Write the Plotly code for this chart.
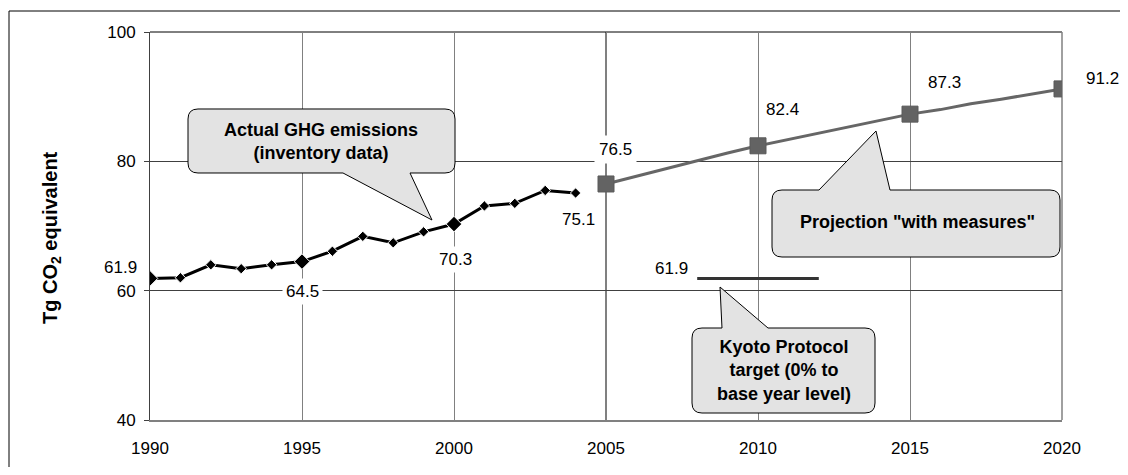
import plotly.graph_objects as go

# ---- data ----
actual_years = list(range(1990, 2005))
actual_values = [61.9, 62.0, 64.0, 63.4, 64.0, 64.5, 66.1, 68.4, 67.4, 69.1, 70.3, 73.1, 73.5, 75.5, 75.1]
proj_years = list(range(2005, 2021))
proj_values = [76.5, 77.7, 79.0, 80.2, 81.3, 82.4, 83.4, 84.3, 85.3, 86.3, 87.3, 88.0, 88.9, 89.6, 90.4, 91.2]
kyoto_years = [2008, 2012]
kyoto_values = [61.9, 61.9]
x_ticks = [1990, 1995, 2000, 2005, 2010, 2015, 2020]
y_ticks = [40, 60, 80, 100]

actual_labelled = {1990: "61.9", 1995: "64.5", 2000: "70.3", 2004: "75.1"}
proj_labelled = {2005: "76.5", 2010: "82.4", 2015: "87.3", 2020: "91.2"}

# ---- geometry (page pixels) ----
PAGE_W, PAGE_H = 1128, 475
OFF = 8  # default body margin of the html page
W, H = PAGE_W - 2 * OFF, PAGE_H - 2 * OFF
L, R, T, B = 150, 1062, 32, 420  # plot area in page pixels
FONT = "Liberation Sans, Arial, sans-serif"


def px(x):
    return (x - L) / (R - L)


def py(y):
    return (B - y) / (B - T)


fig = go.Figure()

big_actual = {1990, 1995, 2000}
fig.add_trace(go.Scatter(
    x=actual_years, y=actual_values, mode="lines+markers",
    line=dict(color="#000000", width=3),
    marker=dict(symbol="diamond", color="#000000", opacity=1,
                size=[12 if yr in big_actual else 8 for yr in actual_years]),
    showlegend=False, hoverinfo="x+y"))

fig.add_trace(go.Scatter(
    x=proj_years, y=proj_values, mode="lines",
    line=dict(color="#666666", width=3),
    showlegend=False, hoverinfo="x+y"))

proj_mark_years = [yr for yr in proj_years if yr in proj_labelled]
fig.add_trace(go.Scatter(
    x=proj_mark_years, y=[proj_values[proj_years.index(yr)] for yr in proj_mark_years],
    mode="markers",
    marker=dict(symbol="square", color="#636363", size=16, opacity=1,
                line=dict(color="#5a5a5a", width=1)),
    showlegend=False, hoverinfo="x+y"))

fig.add_trace(go.Scatter(
    x=kyoto_years, y=kyoto_values, mode="lines",
    line=dict(color="#333333", width=3),
    showlegend=False, hoverinfo="x+y"))

shapes = []
shapes.append(dict(type="line", xref="x", yref="paper", x0=2005, x1=2005, y0=0, y1=1,
                   line=dict(color="#000000", width=1), layer="below"))
shapes.append(dict(type="line", xref="paper", yref="paper", x0=0, x1=1, y0=1, y1=1,
                   line=dict(color="#000000", width=1), layer="below"))
shapes.append(dict(type="line", xref="paper", yref="paper", x0=1, x1=1, y0=0, y1=1,
                   line=dict(color="#808080", width=1.5), layer="below"))
# outer frame (left and top visible)
shapes.append(dict(type="line", xref="paper", yref="paper", x0=px(9), x1=px(9), y0=py(11), y1=py(480),
                   line=dict(color="#000000", width=1)))
shapes.append(dict(type="line", xref="paper", yref="paper", x0=px(9), x1=px(1135), y0=py(11), y1=py(11),
                   line=dict(color="#000000", width=1)))


def callout(x0, y0, x1, y1, side, xa, xb, tx, ty, r=10):
    P = lambda a, b: f"{px(a):.5f},{py(b):.5f}"
    d = [f"M{P(x0 + r, y0)}"]
    if side == "top":
        d += [f"L{P(xa, y0)}", f"L{P(tx, ty)}", f"L{P(xb, y0)}"]
    d += [f"L{P(x1 - r, y0)}", f"Q{P(x1, y0)} {P(x1, y0 + r)}"]
    d += [f"L{P(x1, y1 - r)}", f"Q{P(x1, y1)} {P(x1 - r, y1)}"]
    if side == "bottom":
        d += [f"L{P(xb, y1)}", f"L{P(tx, ty)}", f"L{P(xa, y1)}"]
    d += [f"L{P(x0 + r, y1)}", f"Q{P(x0, y1)} {P(x0, y1 - r)}"]
    d += [f"L{P(x0, y0 + r)}", f"Q{P(x0, y0)} {P(x0 + r, y0)}", "Z"]
    return dict(type="path", xref="paper", yref="paper", path=" ".join(d),
                fillcolor="#e3e3e3", line=dict(color="#000000", width=1), layer="above")


shapes.append(callout(188, 109, 455, 173, "bottom", 343, 410, 432, 220))
shapes.append(callout(772, 190, 1060, 257, "top", 819, 890, 876, 131))
shapes.append(callout(692, 328, 875, 413, "top", 722, 768, 720, 287))

annotations = []
tf = dict(family=FONT, size=17, color="#000000")
act_shift = {1990: (-30, 11), 1995: (0, -30), 2000: (1, -35), 2004: (3, -26)}
for yr, txt in actual_labelled.items():
    v = actual_values[actual_years.index(yr)]
    dx, dy = act_shift[yr]
    annotations.append(dict(x=yr, y=v, xref="x", yref="y", text=txt, showarrow=False,
                            xanchor="center", yanchor="middle",
                            xshift=dx, yshift=dy, font=tf, bgcolor="#ffffff", borderpad=3))
pro_shift = {2005: (9, 34), 2010: (24, 36), 2015: (34, 32), 2020: (40, 10)}
for yr, txt in proj_labelled.items():
    v = proj_values[proj_years.index(yr)]
    dx, dy = pro_shift[yr]
    pad = 1 if yr == 2020 else 4
    annotations.append(dict(x=yr, y=v, xref="x", yref="y", text=txt, showarrow=False,
                            xanchor="center", yanchor="middle",
                            xshift=dx, yshift=dy, font=tf, bgcolor="#ffffff", borderpad=pad))
annotations.append(dict(x=kyoto_years[0], y=kyoto_values[0], xref="x", yref="y", text="61.9",
                        showarrow=False, xanchor="right", yanchor="middle", xshift=-7, yshift=10, font=tf))

bf = dict(family=FONT, size=18, color="#000000")
common = dict(xref="paper", yref="paper", showarrow=False, xanchor="center", yanchor="middle")
annotations.append(dict(x=px(321), y=py(141), text="<b>Actual GHG emissions<br>(inventory data)</b>",
                        font=bf, **common))
annotations.append(dict(x=px(917), y=py(222), text="<b>Projection \"with measures\"</b>",
                        font=bf, **common))
annotations.append(dict(x=px(784), y=py(370), text="<b>Kyoto Protocol<br>target (0% to<br>base year level)</b>",
                        font=bf, **common))
annotations.append(dict(x=px(51), y=py(238), textangle=-90, text="<b>Tg CO<sub>2</sub> equivalent</b>",
                        font=dict(family=FONT, size=20, color="#000000"), **common))

fig.update_layout(
    width=W, height=H, autosize=False,
    margin=dict(l=L - OFF, r=(W + OFF) - R, t=T - OFF, b=(H + OFF) - B, pad=0, autoexpand=False),
    paper_bgcolor="#ffffff", plot_bgcolor="#ffffff",
    shapes=shapes, annotations=annotations,
    xaxis=dict(range=[1990, 2020], tickvals=x_ticks, showgrid=True, gridcolor="#808080", gridwidth=1,
               showline=True, linecolor="#808080", linewidth=2, ticks="", ticklabelstandoff=12,
               automargin=False,
               tickfont=dict(family=FONT, size=17, color="#000000"), zeroline=False, fixedrange=True),
    yaxis=dict(range=[40, 100], tickvals=y_ticks, showgrid=True, gridcolor="#404040", gridwidth=1,
               showline=True, linecolor="#404040", linewidth=1, ticks="outside", ticklen=5,
               tickcolor="#404040", ticklabelstandoff=5, automargin=False,
               tickfont=dict(family=FONT, size=17, color="#000000"), zeroline=False, fixedrange=True),
)

fig.write_html("out.html")
